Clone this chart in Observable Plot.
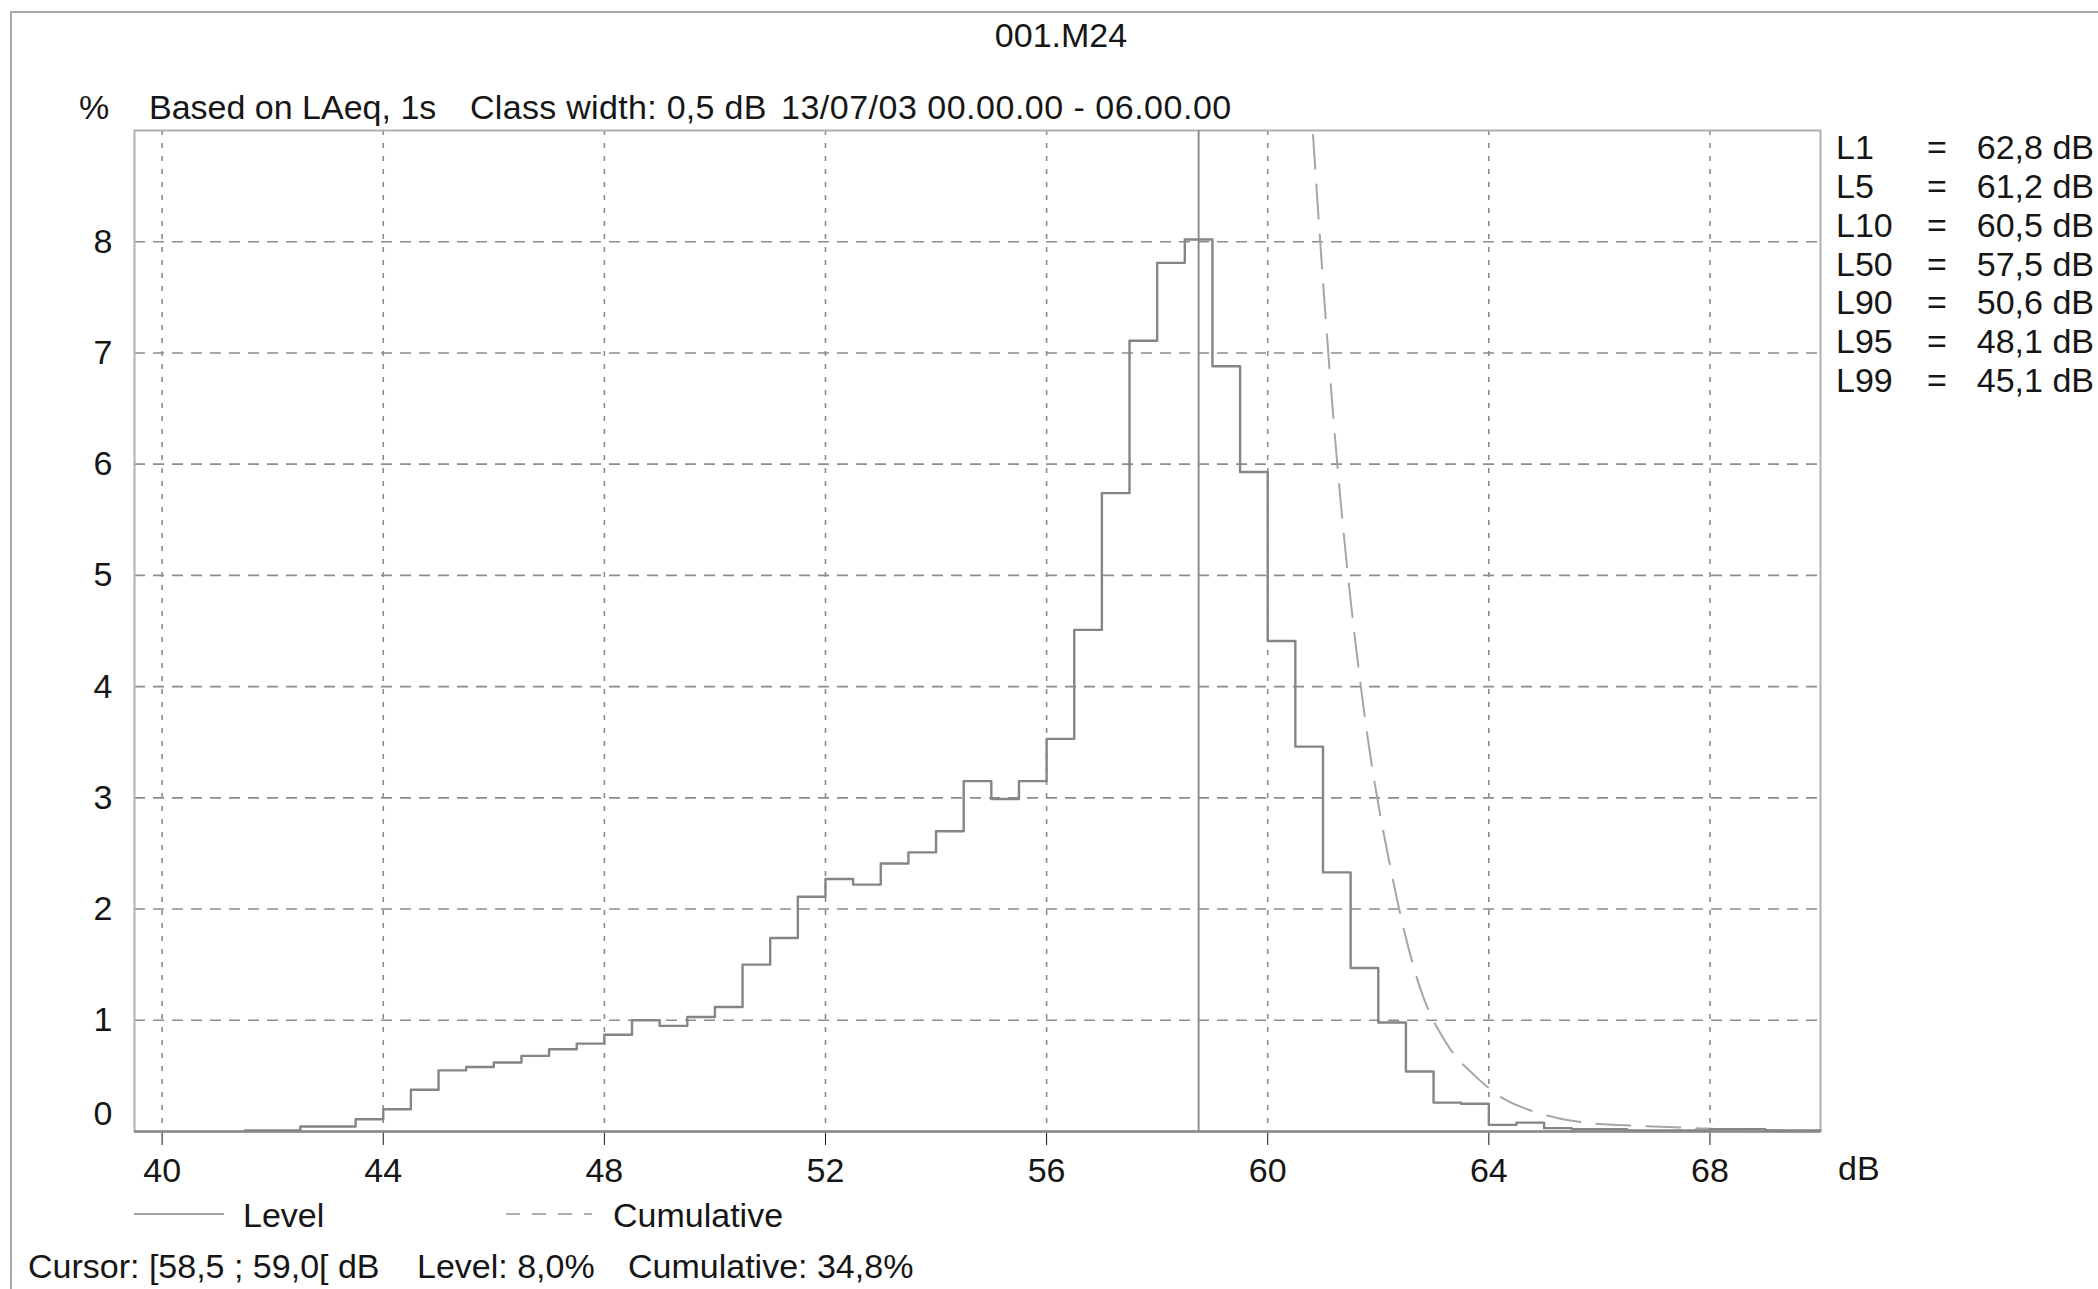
<!DOCTYPE html>
<html>
<head>
<meta charset="utf-8">
<script src="https://cdn.jsdelivr.net/npm/d3@7"></script>
<script src="https://cdn.jsdelivr.net/npm/@observablehq/plot@0.6"></script>
<style>
  html, body { margin: 0; padding: 0; background: #ffffff; }
  #page { position: relative; width: 2098px; height: 1289px; overflow: hidden;
          font-family: "Liberation Sans", Arial, sans-serif; font-size: 34px; color: #161616; }
  #outer { position: absolute; left: 10px; top: 11px; right: -4px; bottom: -4px;
           border-top: 2px solid #a8a8a8; border-left: 2px solid #a8a8a8; }
  #chart { position: absolute; left: 0; top: 0; }
  .t { position: absolute; white-space: pre; line-height: 40px; height: 40px; }
  #chart svg [aria-label^="x-axis"] line { stroke: #8a8a8a; stroke-width: 1.5; }
</style>
</head>
<body>
<div id="page">
  <div id="outer"></div>
  <div id="chart"></div>
</div>
<script>
// ---------------- data ----------------
const chartTitle = "001.M24";
const subtitleParts = ["Based on LAeq, 1s", "Class width: 0,5 dB", "13/07/03 00.00.00 - 06.00.00"];
const yUnit = "%";
const xUnit = "dB";

// class (bin) lower edges, dB
const binStart = [41.5, 42.0, 42.5, 43.0, 43.5, 44.0, 44.5, 45.0, 45.5, 46.0, 46.5, 47.0, 47.5,
                  48.0, 48.5, 49.0, 49.5, 50.0, 50.5, 51.0, 51.5, 52.0, 52.5, 53.0, 53.5, 54.0,
                  54.5, 55.0, 55.5, 56.0, 56.5, 57.0, 57.5, 58.0, 58.5, 59.0, 59.5, 60.0, 60.5,
                  61.0, 61.5, 62.0, 62.5, 63.0, 63.5, 64.0, 64.5, 65.0, 65.5, 66.0, 66.5, 67.0,
                  67.5, 68.0, 68.5, 69.0, 69.5];
const lastBinEnd = 70.0;
// Level, % of time in each class
const levelPct = [0.01, 0.01, 0.045, 0.045, 0.11, 0.20, 0.375, 0.55, 0.58, 0.62, 0.68, 0.74, 0.79,
                  0.87, 1.00, 0.95, 1.03, 1.12, 1.50, 1.74, 2.11, 2.27, 2.22, 2.41, 2.51, 2.70,
                  3.15, 2.99, 3.15, 3.53, 4.51, 5.74, 7.11, 7.81, 8.02, 6.88, 5.93, 4.41, 3.46,
                  2.33, 1.47, 0.98, 0.54, 0.26, 0.25, 0.06, 0.08, 0.03, 0.02, 0.02, 0.01, 0.01,
                  0.01, 0.02, 0.02, 0.01, 0.01];

// Cumulative curve (class centres, %), visible part
const cumDb  = [60.25, 60.75, 61.25, 61.75, 62.25, 62.75, 63.25, 63.75, 64.25, 64.75,
                65.25, 65.75, 66.25, 66.75, 67.25, 67.75, 68.25, 68.75, 69.25, 69.75];
const cumPct = [13.9, 9.5, 6.05, 3.75, 2.3, 1.3, 0.78, 0.5, 0.3, 0.19,
                0.12, 0.08, 0.06, 0.05, 0.04, 0.03, 0.02, 0.015, 0.01, 0.005];

const cursorDb = 58.75;
const cursorText = ["Cursor: [58,5 ; 59,0[ dB", "Level: 8,0%", "Cumulative: 34,8%"];

const xDomain = [39.5, 70];
const yDomain = [0, 9];
const xTicks = [40, 44, 48, 52, 56, 60, 64, 68];
const yTicks = [0, 1, 2, 3, 4, 5, 6, 7, 8];

const percentileNames  = ["L1", "L5", "L10", "L50", "L90", "L95", "L99"];
const percentileValues = ["62,8", "61,2", "60,5", "57,5", "50,6", "48,1", "45,1"];

const legendNames = ["Level", "Cumulative"];

// ---------------- chart ----------------
const levelRows = binStart.map((x, i) => ({db: x, pct: levelPct[i]}));
levelRows.push({db: lastBinEnd, pct: levelPct[levelPct.length - 1]});
const cumRows = cumDb.map((x, i) => ({db: x, pct: cumPct[i]}));

const W = 2098, H = 1200;
const grid = "#8c8c8c";

const plot = Plot.plot({
  width: W,
  height: H,
  marginLeft: 134,
  marginRight: W - 1820,
  marginTop: 130,
  marginBottom: H - 1131,
  style: {fontSize: "34px", fontFamily: "Liberation Sans, Arial, sans-serif", color: "#161616", background: "transparent", overflow: "visible"},
  x: {domain: xDomain, ticks: xTicks, tickSize: 14, tickPadding: 12, tickFormat: d => String(d), label: null},
  y: {domain: yDomain, ticks: yTicks.filter(d => d !== 0), tickSize: 0, tickPadding: 22, tickFormat: d => String(d), label: null},
  marks: [
    Plot.ruleY(yTicks.filter(d => d !== 0), {stroke: grid, strokeWidth: 1.6, strokeDasharray: "11,8"}),
    Plot.ruleX(xTicks, {stroke: grid, strokeWidth: 1.6, strokeDasharray: "5,8"}),
    Plot.frame({stroke: "#b0b0b0", strokeWidth: 2}),
    Plot.ruleY([0], {stroke: "#8a8a8a", strokeWidth: 2.5}),
    Plot.ruleX([cursorDb], {stroke: "#8e8e8e", strokeWidth: 2}),
    Plot.line(cumRows, {x: "db", y: "pct", curve: "monotone-x", stroke: "#a6a6a6", strokeWidth: 2,
                        strokeDasharray: "34,16", clip: true}),
    Plot.line(levelRows, {x: "db", y: "pct", curve: "step-after", stroke: "#858585", strokeWidth: 2.4}),
    Plot.text([yTicks[0]], {x: () => xDomain[0], y: d => d, text: d => String(d), textAnchor: "end",
                            dx: -22, dy: -17, fontSize: 34, fill: "#161616"})
  ]
});
document.getElementById("chart").appendChild(plot);

// ---------------- texts around the chart ----------------
const page = document.getElementById("page");
function addText(str, left, top, extra) {
  const d = document.createElement("div");
  d.className = "t";
  d.textContent = str;
  d.style.left = left + "px";
  d.style.top = top + "px";
  if (extra) Object.assign(d.style, extra);
  page.appendChild(d);
  return d;
}

addText(chartTitle, 1061, 15, {transform: "translateX(-50%)"});
addText(yUnit, 79, 87);
addText(subtitleParts[0], 149, 87);
addText(subtitleParts[1], 470, 87, {letterSpacing: "0.3px"});
addText(subtitleParts[2], 781, 87, {letterSpacing: "0.5px"});

const rowTops = [127, 166, 205, 244, 282, 321, 360];
percentileNames.forEach((n, i) => {
  addText(n, 1836, rowTops[i]);
  addText("=", 1937, rowTops[i], {transform: "translateX(-50%)"});
  addText(percentileValues[i] + " dB", 0, rowTops[i], {left: "auto", right: "4px"});
});

addText(xUnit, 1838, 1148);

// legend
function legendSample(x1, x2, cy, dash, color) {
  const s = document.createElementNS("http://www.w3.org/2000/svg", "svg");
  s.setAttribute("width", x2 - x1);
  s.setAttribute("height", 6);
  s.style.position = "absolute";
  s.style.left = x1 + "px";
  s.style.top = (cy - 3) + "px";
  const l = document.createElementNS("http://www.w3.org/2000/svg", "line");
  l.setAttribute("x1", 0); l.setAttribute("x2", x2 - x1);
  l.setAttribute("y1", 3); l.setAttribute("y2", 3);
  l.setAttribute("stroke", color);
  l.setAttribute("stroke-width", 2.2);
  if (dash) l.setAttribute("stroke-dasharray", dash);
  s.appendChild(l);
  page.appendChild(s);
}
legendSample(134, 224, 1214, null, "#a0a0a0");
addText(legendNames[0], 243, 1195);
legendSample(506, 592, 1214, "14,12", "#b0b0b0");
addText(legendNames[1], 613, 1195);

// cursor readout
addText(cursorText[0], 28, 1246);
addText(cursorText[1], 417, 1246);
addText(cursorText[2], 628, 1246);
</script>
</body>
</html>
